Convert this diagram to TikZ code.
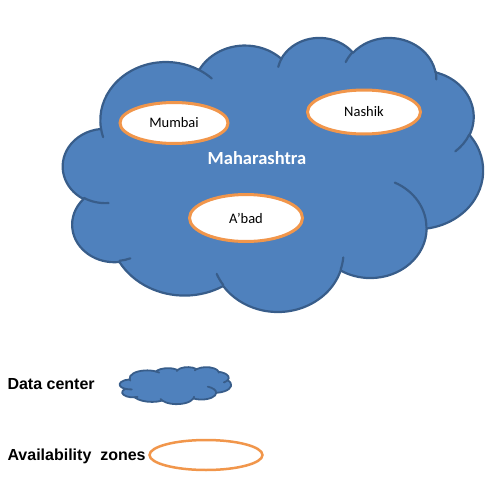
\documentclass[tikz,border=0pt]{standalone}
\usepackage{fontspec}
\usepackage{tikz}
\usetikzlibrary{shapes.geometric,positioning}
\newfontfamily\calibri{Carlito}
\newfontfamily\arial{Liberation Sans}
\definecolor{cloudfill}{RGB}{79,129,189}
\definecolor{clouddraw}{RGB}{56,93,138}
\definecolor{zoneline}{RGB}{241,150,75}
% parametric angle of the point seen at angle #3 on an ellipse #1 x #2
\pgfmathdeclarefunction{vis}{3}{%
  \begingroup
  \pgfmathparse{atan2((#1)*sin(#3),(#2)*cos(#3))}%
  \pgfmathsmuggle\pgfmathresult
  \endgroup}
\tikzset{
  oarc/.style n args={4}{
    start angle={vis(#1,#2,#3)},
    delta angle={mod(vis(#1,#2,#3+#4)-vis(#1,#2,#3)+720,360)},
    x radius=#1, y radius=#2
  },
  dc/.style={draw=clouddraw, fill=cloudfill, line join=round},
  dcline/.style={draw=clouddraw, line cap=round},
  az/.style={
    ellipse, draw=zoneline, fill=white, line width=3pt, inner sep=0pt,
    font=\calibri\fontsize{14.5}{16}\selectfont
  },
  legend/.style={
    anchor=west, font=\arial\bfseries\fontsize{16}{18}\selectfont
  },
  pics/datacenter/.style={code={
    \path[dc] (39,143.7)
      arc[oarc={67.53}{91.90}{-190.48748}{123.78053}]
      arc[oarc={53.33}{72.67}{-144.10238}{89.94523}]
      arc[oarc={43.65}{59.45}{-145.80792}{99.72302}]
      arc[oarc={48.57}{65.95}{-130.98607}{117.24173}]
      arc[oarc={53.33}{72.73}{-78.70888}{109.02692}]
      arc[oarc={67.75}{92.20}{-46.26725}{130.269}]
      arc[oarc={57.85}{78.67}{0.62502}{114.03333}]
      arc[oarc={67.52}{92.15}{22.4516}{115.17255}]
      arc[oarc={77.20}{105.43}{66.24263}{75.71102}]
      arc[oarc={43.60}{59.18}{-274.94208}{146.73557}]
      arc[oarc={43.45}{59.45}{-246.8285}{152.51885}]
      -- cycle;
    \path[dcline]
      (46.93,261.77) arc[oarc={43.45}{59.45}{86.742}{26.4295}]
      (69.28,348.99) arc[oarc={43.60}{59.18}{73.61047}{11.44747}]
      (164.78,390.90) arc[oarc={67.52}{92.15}{137.62415}{14.0811}]
      (288.27,347.51) arc[oarc={67.52}{92.15}{6.45327}{15.99835}]
      (341.29,229.54) arc[oarc={57.85}{78.67}{-70.29235}{70.91737}]
      (417.98,153.54) arc[oarc={53.33}{72.73}{30.31803}{27.7515}]
      (383.24,54.26) arc[oarc={48.57}{65.95}{-13.74433}{14.8589}]
      (290.78,39.52) arc[oarc={48.57}{65.95}{-149.18145}{18.19537}]
      (221.41,47.20) arc[oarc={43.65}{59.45}{-163.49427}{17.68635}]
      (140.00,51.92) arc[oarc={67.53}{91.90}{-66.70695}{12.31935}]
      (41.27,157.89) arc[oarc={67.53}{91.90}{157.65435}{11.85817}];
  }}
}
\begin{document}
\begin{tikzpicture}[x=1pt, y=-1pt]
\useasboundingbox (0,0) rectangle (504,490);
% data center cloud
\begin{scope}[shift={(63,37)}, x=0.97222pt, y=-0.63426pt, line width=2.2pt]
  \pic (maha) {datacenter};
\end{scope}
\node[font=\calibri\bfseries\fontsize{18.5}{20}\selectfont, text=white] (mahatext) at (257,158) {Maharashtra};
% availability zones
\node[az, minimum width=108pt, minimum height=41pt] (mumbai) at (174,123) {Mumbai};
\node[az, minimum width=113pt, minimum height=44pt] (nashik) at (364,112) {Nashik\hspace{16pt}};
\node[az, minimum width=113pt, minimum height=47pt] (abad) at (246,218) {A’bad};
% legend
\node[legend] (dclabel) at (4,384) {Data center};
\begin{scope}[shift={(119.7,367)}, x=0.2581pt, y=-0.08565pt, line width=1.8pt]
  \pic (dcicon) {datacenter};
\end{scope}
\node[legend] (azlabel) at (4,456) {Availability\ \ zones};
\node[az, line width=2.5pt, minimum width=113pt, minimum height=30pt] (azicon) at (206,455) {};
\end{tikzpicture}
\end{document}
